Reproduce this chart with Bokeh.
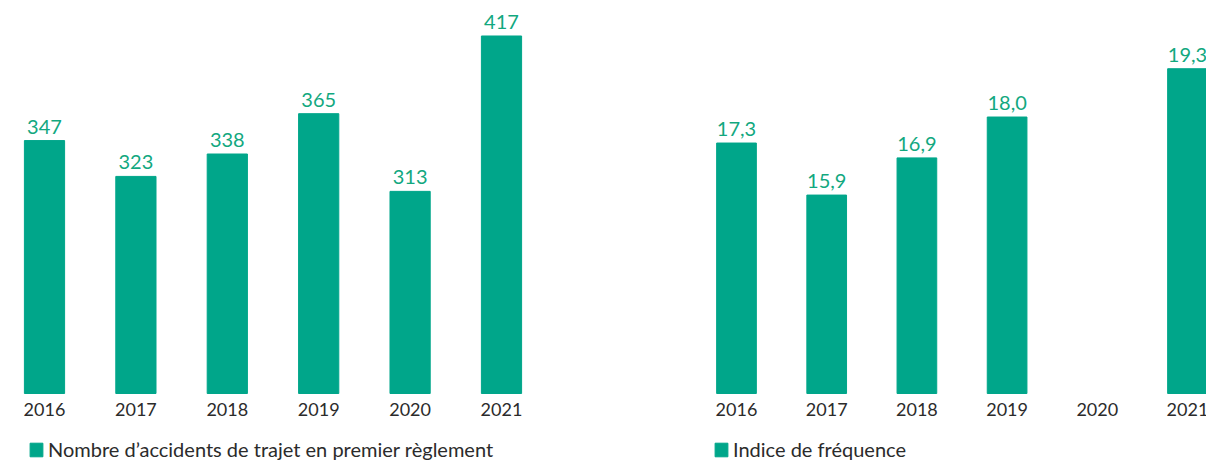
from bokeh.plotting import figure
from bokeh.layouts import row
from bokeh.models import Range1d, Legend, LegendItem, ColumnDataSource
from bokeh.core.properties import value
from bokeh.embed import file_html
from bokeh.resources import INLINE

years = ["2016", "2017", "2018", "2019", "2020", "2021"]
accidents = [347, 323, 338, 365, 313, 417]
accident_labels = ["347", "323", "338", "365", "313", "417"]
freq_years = ["2016", "2017", "2018", "2019", "2021"]
freq = [17.3, 15.9, 16.9, 18.0, 19.3]
freq_labels = ["17,3", "15,9", "16,9", "18,0", "19,3"]

BAR = "#00A68A"
LBL = "#12A87F"
TXT = "#2B2B2B"
FONT = "Lato"
H = 462
BASE_PX = 393  # screen row of the bars' baseline


def make(xs, vals, labels, base, px_per_unit, x0, px_per_cat, w, legend_text, legend_x):
    y0 = base - (H - BASE_PX) / px_per_unit
    y1 = base + BASE_PX / px_per_unit
    p = figure(width=w, height=H, output_backend="svg", toolbar_location=None,
               x_range=Range1d(x0, x0 + w / px_per_cat), y_range=Range1d(y0, y1),
               min_border=0, x_axis_type=None, y_axis_type=None)
    p.outline_line_color = None
    p.grid.visible = False
    src = ColumnDataSource(dict(x=xs, top=vals, lab=labels))
    r = p.vbar(x="x", top="top", bottom=base, width=0.44, source=src, color=BAR)
    p.text(x="x", y="top", text="lab", source=src, text_align="center", text_baseline="bottom",
           y_offset=-7, text_font=value(FONT), text_font_size="20px", text_color=LBL)
    tick_src = ColumnDataSource(dict(x=list(range(len(years))), y=[base] * len(years), t=years))
    p.text(x="x", y="y", text="t", source=tick_src, text_align="center", text_baseline="top",
           y_offset=9, text_font=value(FONT), text_font_size="18px", text_color=TXT)
    leg = Legend(items=[LegendItem(label=legend_text, renderers=[r])], location=(legend_x, 1),
                 orientation="horizontal", border_line_color=None, background_fill_alpha=0,
                 glyph_width=16, glyph_height=17, label_standoff=4, padding=0, margin=0,
                 label_text_font=FONT, label_text_font_size="20px", label_text_color=TXT)
    p.add_layout(leg, "center")
    return p


LW = 713
p1 = make(list(range(6)), accidents, accident_labels, 177.7, 1.494, -44 / 91.4, 91.4, LW,
          "Nombre d\u2019accidents de trajet en premier règlement", 28)
freq_x = [years.index(y) for y in freq_years]
RW = 1206 - LW
p2 = make(freq_x, freq, freq_labels, 10.56, 37.16, -(736 - LW) / 90.2, 90.2, RW,
          "Indice de fréquence", 0)

layout = row(p1, p2, spacing=0)
open("out.html", "w").write(file_html(layout, INLINE))
